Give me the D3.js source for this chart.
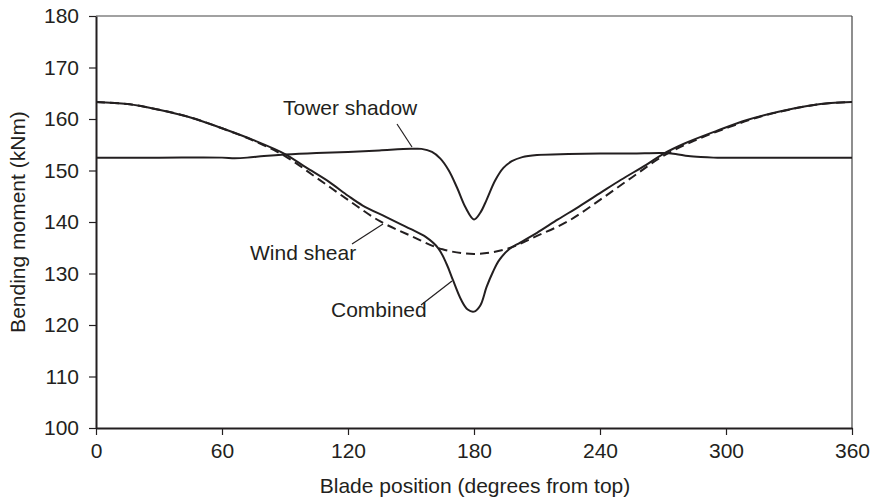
<!DOCTYPE html>
<html>
<head>
<meta charset="utf-8">
<script src="https://cdn.jsdelivr.net/npm/d3@7"></script>
<style>
  html, body { margin: 0; padding: 0; background: #fff; }
  svg { display: block; }
  text { font-family: "Liberation Sans", Arial, sans-serif; fill: #231f20; }
</style>
</head>
<body>
<svg id="chart" width="877" height="500"></svg>
<script>
// ---- data ----
const xTicks = [0, 60, 120, 180, 240, 300, 360];
const yTicks = [100, 110, 120, 130, 140, 150, 160, 170, 180];

const windAngles = [0,15,30,45,60,75,90,105,120,135,150,165,180,195,210,225,240,255,270,285,300,315,330,345,360];
const windValues = [163.3,162.9,161.8,160.3,158.2,155.8,152.8,148.6,144.3,140.2,137.3,134.7,133.8,134.7,137.3,140.2,144.3,148.6,152.8,155.8,158.2,160.3,161.8,162.9,163.3];

const towerAngles = [0,30,60,66,72,80,90,105,120,135,150,155,160,164,168,172,176,180,183,186,190,194,198,203,210,225,240,255,270,276,282,288,294,300,330,360];
const towerValues = [152.5,152.5,152.5,152.4,152.5,152.8,153.1,153.4,153.6,153.9,154.2,154.2,153.6,152.3,150.0,146.6,142.8,140.5,141.8,144.3,148.0,150.5,151.8,152.6,153.0,153.2,153.3,153.3,153.4,153.2,152.8,152.6,152.5,152.5,152.5,152.5];

const combAngles = [0,15,30,45,60,75,90,100,111,120,127,138,145,150,157,163,167,170,174,177,180,183,186,189,192,197,202,210,220,230,240,250,262,270,280,295,310,325,340,350,360];
const combValues = [163.3,162.9,161.8,160.3,158.2,155.9,153.2,150.6,147.8,145.1,143.2,141.0,139.6,138.6,137.1,134.9,131.8,128.7,124.8,123.0,122.6,123.8,127.4,130.3,132.6,134.8,136.0,137.9,140.5,143.0,145.6,148.2,151.1,153.2,155.2,157.6,159.8,161.4,162.6,163.1,163.3];

const labels = [
  { text: "Tower shadow", x: 283, y: 115, lx1: 397, ly1: 124, lx2: 412, ly2: 147 },
  { text: "Wind shear",   x: 250, y: 260, lx1: 352, ly1: 244, lx2: 383, ly2: 224 },
  { text: "Combined",     x: 331, y: 317, lx1: 421, ly1: 305, lx2: 452, ly2: 281 }
];

// ---- layout ----
const svg = d3.select("#chart");
const mL = 96, mR = 852, mT = 16, mB = 428;
const x = d3.scaleLinear().domain([0, 360]).range([mL, mR]);
const y = d3.scaleLinear().domain([100, 180]).range([mB, mT]);
const ink = "#231f20";
const fs = 21;

// frame (top & right thin)
svg.append("line").attr("x1", mL).attr("x2", mR).attr("y1", mT).attr("y2", mT)
  .attr("stroke", "#444").attr("stroke-width", 1.2);
svg.append("line").attr("x1", mR).attr("x2", mR).attr("y1", mT).attr("y2", mB)
  .attr("stroke", "#444").attr("stroke-width", 1.2);

// axes
const xAxis = svg.append("g").attr("transform", `translate(0,${mB})`)
  .call(d3.axisBottom(x).tickValues(xTicks).tickSize(7).tickSizeOuter(0).tickPadding(8));
const yAxis = svg.append("g").attr("transform", `translate(${mL},0)`)
  .call(d3.axisLeft(y).tickValues(yTicks).tickSize(7).tickSizeOuter(0).tickPadding(10));
[xAxis, yAxis].forEach(g => {
  g.select(".domain").attr("stroke", ink).attr("stroke-width", 2);
  g.selectAll(".tick line").attr("stroke", ink).attr("stroke-width", 1.2);
  g.selectAll(".tick text").attr("font-size", fs).attr("fill", ink)
    .attr("font-family", "'Liberation Sans', Arial, sans-serif");
});

// axis titles
svg.append("text").attr("x", 475).attr("y", 493)
  .attr("text-anchor", "middle").attr("font-size", fs).text("Blade position (degrees from top)");
svg.append("text").attr("transform", `translate(25,${(mT + mB) / 2}) rotate(-90)`)
  .attr("text-anchor", "middle").attr("font-size", fs).text("Bending moment (kNm)");

// lines
const line = d3.line().x(d => x(d[0])).y(d => y(d[1])).curve(d3.curveCatmullRom.alpha(0.5));
const series = [
  { a: windAngles, v: windValues, dash: "9,5" },
  { a: towerAngles, v: towerValues, dash: null },
  { a: combAngles, v: combValues, dash: null }
];
series.forEach(s => {
  svg.append("path")
    .datum(s.a.map((d, i) => [d, s.v[i]]))
    .attr("d", line)
    .attr("fill", "none")
    .attr("stroke", ink)
    .attr("stroke-width", 2)
    .attr("stroke-dasharray", s.dash);
});

// annotations
labels.forEach(l => {
  svg.append("text").attr("x", l.x).attr("y", l.y).attr("font-size", fs).text(l.text);
  svg.append("line").attr("x1", l.lx1).attr("y1", l.ly1).attr("x2", l.lx2).attr("y2", l.ly2)
    .attr("stroke", ink).attr("stroke-width", 1.2);
});
</script>
</body>
</html>
